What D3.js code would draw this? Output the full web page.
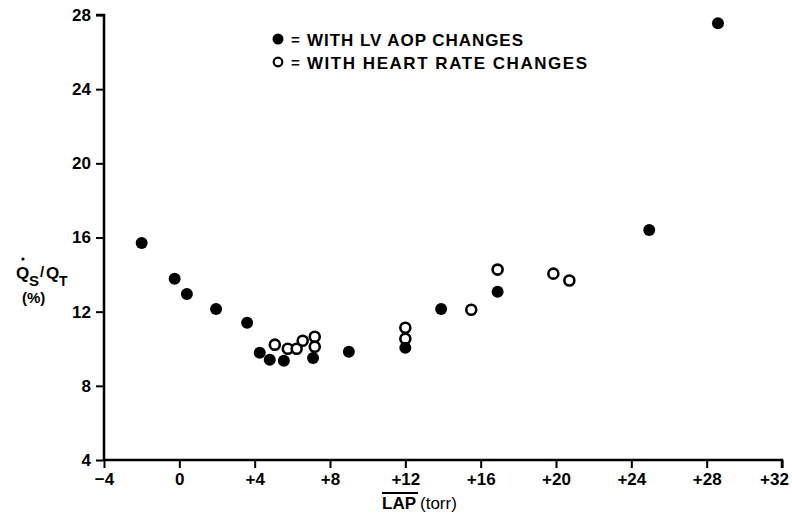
<!DOCTYPE html>
<html><head><meta charset="utf-8">
<script src="https://cdn.jsdelivr.net/npm/d3@7"></script>
<style>body{margin:0;background:#fff}text{font-family:"Liberation Sans",Arial,sans-serif;font-weight:bold;fill:#000}</style>
</head><body><svg id="c" width="792" height="516"></svg>
<script>
const xTicks=[-4,0,4,8,12,16,20,24,28,32];
const yTicks=[4,8,12,16,20,24,28];
// filled: with LV AOP changes
const aopX=[-2.0,-0.25,0.4,1.95,3.6,4.27,4.8,5.55,7.1,9.0,12.0,13.9,16.9,24.95,28.6];
const aopY=[15.7,13.78,12.95,12.15,11.4,9.78,9.41,9.35,9.5,9.84,10.05,12.15,13.08,16.4,27.55];
// open: with heart rate changes
const hrX=[5.07,5.76,6.23,6.55,7.19,7.19,12.0,12.0,15.5,16.9,19.86,20.71];
const hrY=[10.22,10.0,10.0,10.43,10.65,10.11,11.13,10.54,12.1,14.27,14.05,13.68];
const legendLabels=["WITH LV AOP CHANGES","WITH HEART RATE CHANGES"];

const svg=d3.select("#c");
const x=d3.scaleLinear().domain([-4,32]).range([104,782]);
const y=d3.scaleLinear().domain([4,28]).range([460,15]);

const xa=svg.append("g").attr("transform","translate(0,460)")
  .call(d3.axisBottom(x).tickValues(xTicks).tickSize(8).tickPadding(5)
    .tickFormat(d=>d>0?"+"+d:(d<0?"\u2212"+(-d):"0")));
const ya=svg.append("g").attr("transform","translate(104,0)")
  .call(d3.axisLeft(y).tickValues(yTicks).tickSize(8).tickPadding(5));
[xa,ya].forEach(g=>{
  g.select(".domain").attr("stroke","#000").attr("stroke-width",2.5);
  g.selectAll(".tick line").attr("stroke","#000").attr("stroke-width",2);
  g.selectAll(".tick text").attr("font-size",17).attr("font-family","Liberation Sans").attr("font-weight","bold").attr("fill","#000");
});
xa.selectAll(".tick text").filter(d=>d===32).attr("dx",-8);
xa.select(".domain").attr("d","M104,0H782V8");
ya.select(".domain").attr("d","M-8,15H0V460");

// points
svg.append("g").selectAll("circle").data(hrX).join("circle")
  .attr("cx",(d)=>x(d)).attr("cy",(d,i)=>y(hrY[i])).attr("r",5)
  .attr("fill","#fff").attr("stroke","#000").attr("stroke-width",2.6);
svg.append("g").selectAll("circle").data(aopX).join("circle")
  .attr("cx",(d)=>x(d)).attr("cy",(d,i)=>y(aopY[i])).attr("r",6).attr("fill","#000");

// legend
const lg=svg.append("g");
lg.append("circle").attr("cx",278).attr("cy",39).attr("r",5.5).attr("fill","#000");
lg.append("circle").attr("cx",278).attr("cy",62).attr("r",4.3).attr("fill","#fff").attr("stroke","#000").attr("stroke-width",2.2);
[0,1].forEach(i=>{
  lg.append("text").attr("x",291).attr("y",45+i*23).attr("font-size",15).text("=");
  lg.append("text").attr("x",307).attr("y",46+i*23).attr("font-size",17)
    .attr("textLength",i?280:216).attr("lengthAdjust","spacing").text(legendLabels[i]);
});

// y label
const yl=svg.append("g");
yl.append("text").attr("x",16).attr("y",279).attr("font-size",17).text("Q");
yl.append("circle").attr("cx",23).attr("cy",259).attr("r",1.6).attr("fill","#000");
yl.append("text").attr("x",29).attr("y",286).attr("font-size",15).text("S");
yl.append("text").attr("x",40).attr("y",277).attr("font-size",15).text("/");
yl.append("text").attr("x",46).attr("y",279).attr("font-size",17).text("Q");
yl.append("text").attr("x",59).attr("y",286).attr("font-size",14).text("T");
yl.append("text").attr("x",22).attr("y",303).attr("font-size",15).text("(%)");

// x label
const xl=svg.append("text").attr("x",382).attr("y",509).attr("font-size",17);
xl.append("tspan").text("LAP");
xl.append("tspan").attr("font-weight","normal").attr("dx",4).text("(torr)");
svg.append("line").attr("x1",382).attr("x2",418).attr("y1",493).attr("y2",493).attr("stroke","#000").attr("stroke-width",2);
</script></body></html>
